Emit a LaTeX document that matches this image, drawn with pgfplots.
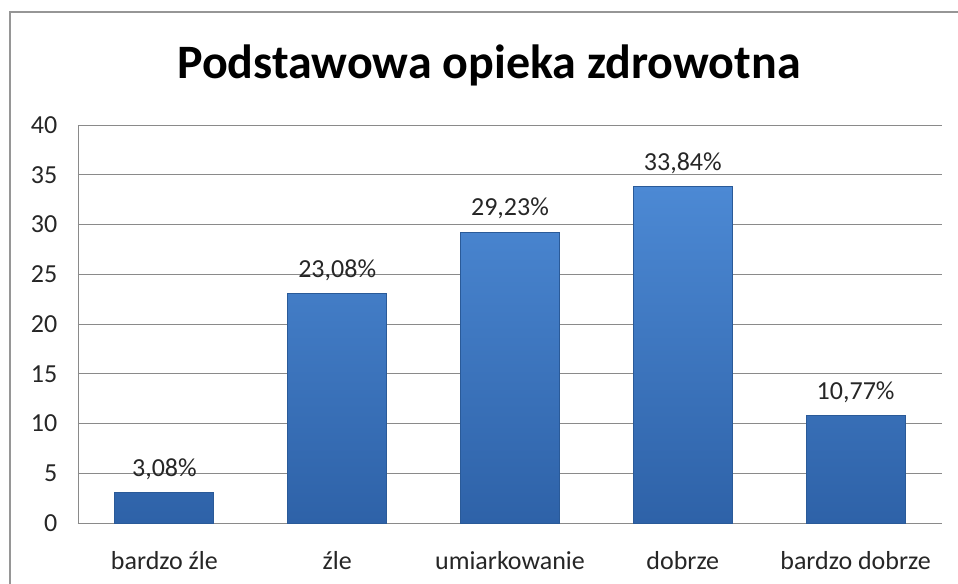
\documentclass[border=0pt]{standalone}
\usepackage{pgfplots}
\pgfplotsset{compat=1.18}
\usepackage{fontspec}
\setmainfont{Carlito}

\definecolor{bartop}{HTML}{4C89D4}
\definecolor{barbot}{HTML}{2E62A8}
\definecolor{baredge}{HTML}{2A5A98}
\definecolor{gridgray}{HTML}{8A8A8A}

\pgfplotstableread{
x  val   lab
0  3.08  {3,08\%}
1  23.08 {23,08\%}
2  29.23 {29,23\%}
3  33.84 {33,84\%}
4  10.77 {10,77\%}
}\datatable

\begin{document}
% 1 px of the reference = 0.75pt; origin at the lower left corner of the plot area
\begin{tikzpicture}[x=0.75pt,y=0.75pt]
\useasboundingbox (-78,-60) rectangle (880,523);
\draw[gridgray!90, line width=1.2pt] (-68,-70) -- (-68,511) -- (900,511);
\node[anchor=base, font=\bfseries\fontsize{36}{40}\selectfont] at (411,445) {Podstawowa opieka zdrowotna};
\begin{axis}[
    at={(0,0)}, anchor=south west,
    width=648pt, height=298.5pt,
    scale only axis,
    ymin=0, ymax=40,
    ytick={0,5,...,40},
    xmin=-0.5, xmax=4.5,
    xtick=data,
    xticklabels={bardzo źle, źle, umiarkowanie, dobrze, bardzo dobrze},
    major tick length=0pt,
    axis x line*=bottom,
    axis y line*=left,
    axis line style={gridgray, line width=0.6pt},
    ymajorgrids,
    grid style={gridgray, line width=0.6pt},
    tick label style={font=\fontsize{19.5}{22}\selectfont, text=black!85},
    /pgf/number format/assume math mode=true,
    yticklabel style={xshift=-12pt},
    xticklabel style={yshift=-17.5pt},
    ybar,
    bar width=74.25pt,
    nodes near coords,
    point meta=explicit symbolic,
    every node near coord/.append style={font=\fontsize{19.5}{22}\selectfont, text=black!85, anchor=south, yshift=6pt},
]
\addplot[draw=baredge, line width=0.6pt, top color=bartop, bottom color=barbot]
    table[x=x, y=val, meta=lab] {\datatable};
\end{axis}
\end{tikzpicture}
\end{document}
